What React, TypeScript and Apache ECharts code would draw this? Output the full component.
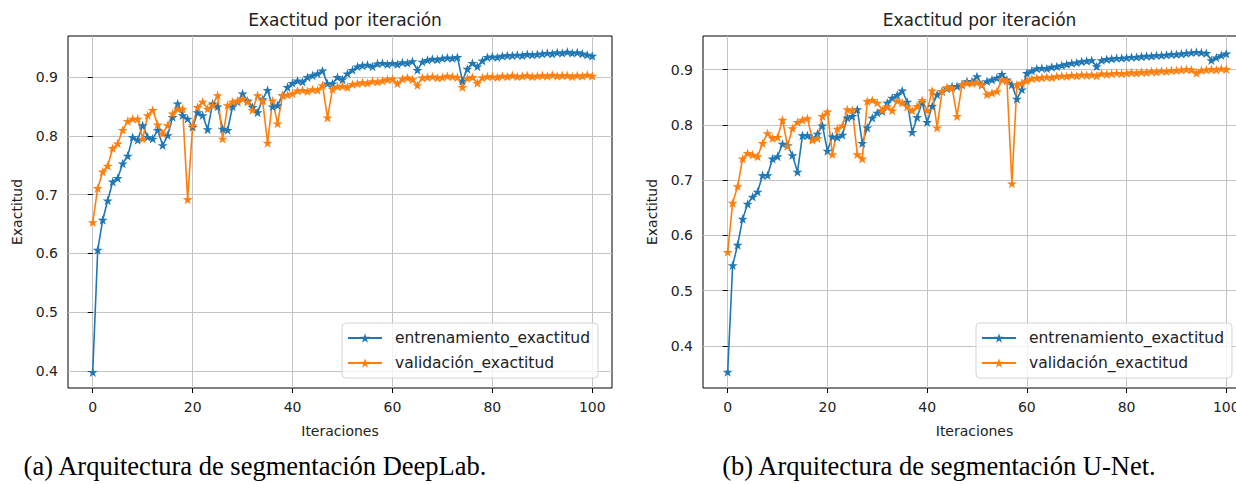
import React, { useEffect, useRef } from "react";
import * as echarts from "echarts";

const TITLE = "Exactitud por iteración";
const X_NAME = "Iteraciones";
const Y_NAME = "Exactitud";
const TRAIN_NAME = "entrenamiento_exactitud";
const VAL_NAME = "validación_exactitud";
const CAPTIONS = [
  "(a) Arquitectura de segmentación DeepLab.",
  "(b) Arquitectura de segmentación U-Net.",
];
const X_TICKS = [0, 20, 40, 60, 80, 100];
const Y_TICKS = [0.4, 0.5, 0.6, 0.7, 0.8, 0.9];

const deeplabTrain = [
  0.398, 0.606, 0.657, 0.69, 0.722, 0.728, 0.753, 0.766, 0.798, 0.793,
  0.818, 0.798, 0.795, 0.81, 0.784, 0.801, 0.832, 0.855, 0.835, 0.829,
  0.815, 0.84, 0.835, 0.811, 0.855, 0.85, 0.812, 0.81, 0.85, 0.858,
  0.872, 0.86, 0.849, 0.84, 0.862, 0.878, 0.85, 0.852, 0.869, 0.883,
  0.89, 0.894, 0.892, 0.9, 0.903, 0.906, 0.911, 0.889, 0.889, 0.9,
  0.896, 0.906, 0.912, 0.918, 0.92, 0.921, 0.918, 0.923, 0.924, 0.922,
  0.924, 0.922, 0.925, 0.924, 0.927, 0.912, 0.926, 0.929, 0.931, 0.93,
  0.932, 0.933, 0.932, 0.934, 0.894, 0.914, 0.924, 0.918, 0.928, 0.934,
  0.935, 0.934, 0.936, 0.937, 0.937, 0.938, 0.937, 0.939, 0.938, 0.939,
  0.94, 0.941, 0.94, 0.942, 0.941, 0.943, 0.941, 0.942, 0.94, 0.938,
  0.936,
];
const deeplabVal = [
  0.653, 0.711, 0.739, 0.749, 0.779, 0.787, 0.81, 0.825, 0.829, 0.829,
  0.795, 0.835, 0.844, 0.819, 0.804, 0.818, 0.838, 0.846, 0.846, 0.692,
  0.818, 0.849, 0.858, 0.846, 0.852, 0.869, 0.795, 0.852, 0.858, 0.86,
  0.863, 0.858, 0.844, 0.869, 0.86, 0.788, 0.86, 0.821, 0.869, 0.87,
  0.872, 0.877, 0.878, 0.876, 0.879, 0.878, 0.886, 0.831, 0.88, 0.884,
  0.885, 0.883, 0.888, 0.889, 0.891, 0.89, 0.893, 0.892, 0.894, 0.896,
  0.897, 0.889, 0.897, 0.899, 0.896, 0.886, 0.899, 0.9, 0.901, 0.899,
  0.9, 0.902, 0.901, 0.9, 0.883, 0.898, 0.9, 0.89, 0.899, 0.901,
  0.901, 0.9, 0.902, 0.901, 0.903, 0.901, 0.902, 0.903, 0.901, 0.902,
  0.903, 0.902, 0.904, 0.902, 0.903, 0.903, 0.901, 0.903, 0.902, 0.904,
  0.902,
];
const unetTrain = [
  0.353, 0.546, 0.583, 0.63, 0.657, 0.67, 0.679, 0.709, 0.709, 0.739,
  0.743, 0.766, 0.763, 0.745, 0.715, 0.781, 0.781, 0.775, 0.784, 0.799,
  0.753, 0.779, 0.778, 0.782, 0.813, 0.816, 0.828, 0.767, 0.795, 0.813,
  0.822, 0.825, 0.84, 0.849, 0.854, 0.862, 0.842, 0.787, 0.814, 0.841,
  0.805, 0.834, 0.855, 0.861, 0.866, 0.87, 0.87, 0.873, 0.879, 0.879,
  0.888, 0.873, 0.879, 0.882, 0.885, 0.892, 0.882, 0.873, 0.847, 0.864,
  0.894, 0.898, 0.902, 0.903, 0.902, 0.905, 0.906, 0.908, 0.91, 0.912,
  0.913, 0.915, 0.916, 0.917, 0.906, 0.917, 0.919, 0.92, 0.921, 0.921,
  0.922, 0.923, 0.923, 0.924, 0.925, 0.925, 0.926, 0.926, 0.927, 0.928,
  0.928, 0.929, 0.93, 0.931, 0.932, 0.931, 0.93, 0.917, 0.922, 0.926,
  0.929,
];
const unetVal = [
  0.57, 0.659, 0.689, 0.739, 0.749, 0.746, 0.743, 0.767, 0.785, 0.776,
  0.778, 0.809, 0.762, 0.794, 0.805, 0.809, 0.812, 0.773, 0.776, 0.816,
  0.824, 0.747, 0.793, 0.799, 0.828, 0.827, 0.747, 0.739, 0.843, 0.845,
  0.84, 0.827, 0.833, 0.826, 0.844, 0.84, 0.833, 0.826, 0.834, 0.845,
  0.826, 0.862, 0.795, 0.861, 0.868, 0.867, 0.816, 0.873, 0.876, 0.876,
  0.877, 0.873, 0.855, 0.858, 0.861, 0.882, 0.88, 0.694, 0.873, 0.876,
  0.88, 0.884, 0.885, 0.886, 0.887, 0.886, 0.888, 0.889, 0.888, 0.89,
  0.889, 0.891, 0.89, 0.891, 0.889, 0.893, 0.892, 0.893, 0.894, 0.893,
  0.894, 0.895, 0.894, 0.896, 0.895, 0.897, 0.896, 0.898, 0.897, 0.899,
  0.899, 0.9, 0.901, 0.9, 0.894, 0.899, 0.9, 0.901, 0.9, 0.902,
  0.901,
];

const BLUE = "#1f77b4";
const ORANGE = "#ff7f0e";
const STAR =
  "path://M0,-1L0.2245,-0.309L0.951,-0.309L0.363,0.118L0.588,0.809L0,0.382L-0.588,0.809L-0.363,0.118L-0.951,-0.309L-0.2245,-0.309Z";
const FONT = '"DejaVu Sans", sans-serif';
const TEXT = "#222222";

const panels = [
  { left: 68, width: 544, yMin: 0.371, yMax: 0.97, train: deeplabTrain, val: deeplabVal, legendLeft: 342, captionX: 255 },
  { left: 703, width: 543, yMin: 0.324, yMax: 0.961, train: unetTrain, val: unetVal, legendLeft: 976, captionX: 939 },
];

function buildOption() {
  const grids: any[] = [];
  const xAxes: any[] = [];
  const yAxes: any[] = [];
  const series: any[] = [];
  const titles: any[] = [];
  const legends: any[] = [];
  const graphics: any[] = [];

  panels.forEach((p, k) => {
    grids.push({
      left: p.left,
      top: 36,
      width: p.width,
      height: 352,
      show: true,
      borderColor: "#000",
      borderWidth: 1,
      backgroundColor: "transparent",
      z: 0,
    });
    xAxes.push({
      type: "value",
      gridIndex: k,
      min: -4.95,
      max: 103.95,
      name: X_NAME,
      nameLocation: "middle",
      nameGap: 36,
      nameTextStyle: { fontFamily: FONT, fontSize: 14, color: TEXT },
      axisLine: { show: false },
      axisTick: { show: true, inside: false, length: 5, lineStyle: { color: "#000" }, customValues: X_TICKS },
      axisLabel: {
        customValues: X_TICKS,
        fontFamily: FONT,
        fontSize: 14,
        color: TEXT,
        margin: 12,
        formatter: (v: number) => String(Math.round(v)),
      },
      splitLine: { show: true, lineStyle: { color: "#c4c4c4", width: 1 } },
    });
    yAxes.push({
      type: "value",
      gridIndex: k,
      min: p.yMin,
      max: p.yMax,
      name: Y_NAME,
      nameLocation: "middle",
      nameGap: 44,
      nameTextStyle: { fontFamily: FONT, fontSize: 14, color: TEXT },
      axisLine: { show: false },
      axisTick: { show: true, inside: false, length: 5, lineStyle: { color: "#000" }, customValues: Y_TICKS },
      axisLabel: {
        customValues: Y_TICKS,
        fontFamily: FONT,
        fontSize: 14,
        color: TEXT,
        margin: 10,
        formatter: (v: number) => v.toFixed(1),
      },
      splitLine: { show: true, lineStyle: { color: "#c4c4c4", width: 1 } },
    });
    const mk = (name: string, arr: number[], color: string) => ({
      type: "line",
      name,
      xAxisIndex: k,
      yAxisIndex: k,
      data: arr.map((v, i) => [i, v]),
      symbol: STAR,
      symbolSize: 10,
      symbolKeepAspect: true,
      showSymbol: true,
      lineStyle: { color, width: 1.6 },
      itemStyle: { color, borderWidth: 0 },
      emphasis: { disabled: true },
    });
    series.push(mk(TRAIN_NAME, p.train, BLUE));
    series.push(mk(VAL_NAME, p.val, ORANGE));
    titles.push({
      text: TITLE,
      left: p.left + p.width / 2,
      textAlign: "center",
      top: 6,
      textStyle: { fontFamily: FONT, fontSize: 17, fontWeight: "normal", color: TEXT },
    });
    legends.push({
      data: [TRAIN_NAME, VAL_NAME],
      orient: "vertical",
      left: p.legendLeft,
      top: 323,
      itemWidth: 34,
      itemHeight: 12,
      itemGap: 9,
      padding: [7, 8, 7, 5],
      backgroundColor: "rgba(255,255,255,0.8)",
      borderColor: "#d4d4d4",
      borderWidth: 1,
      borderRadius: 4,
      selectedMode: false,
      textStyle: { fontFamily: FONT, fontSize: 15.5, color: TEXT, padding: [0, 0, 0, 8] },
    });
    graphics.push({
      type: "text",
      x: p.captionX,
      y: 466,
      style: {
        text: CAPTIONS[k],
        font: '26.5px "Liberation Serif", serif',
        fill: "#000",
        align: "center",
        textAlign: "center",
        verticalAlign: "middle",
        textVerticalAlign: "middle",
      },
    });
  });

  return {
    animation: false,
    backgroundColor: "#ffffff",
    title: titles,
    legend: legends,
    grid: grids,
    xAxis: xAxes,
    yAxis: yAxes,
    series,
    graphic: graphics,
  };
}

export default function App() {
  const ref = useRef<HTMLDivElement>(null);
  useEffect(() => {
    if (!ref.current) return;
    const chart = echarts.init(ref.current, null, { renderer: "svg" });
    chart.setOption(buildOption() as any);
    return () => chart.dispose();
  }, []);
  return (
    <div
      style={{ position: "absolute", left: 0, top: 0, width: 1236, height: 484, overflow: "hidden", background: "#fff" }}
    >
      <div ref={ref} style={{ position: "absolute", left: 0, top: 0, width: 1270, height: 484 }} />
    </div>
  );
}
